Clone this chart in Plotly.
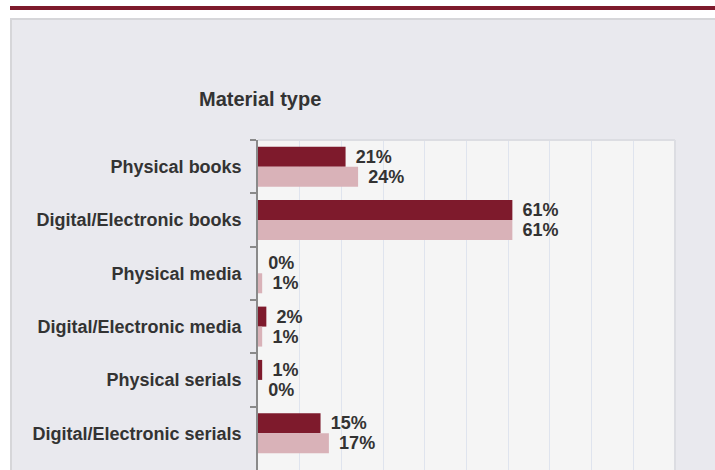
import plotly.graph_objects as go

categories = ["Physical books", "Digital/Electronic books", "Physical media",
              "Digital/Electronic media", "Physical serials",
              "Digital/Electronic serials", "Other"]
series_a = [21, 61, 0, 2, 1, 15, 0]
series_b = [24, 61, 1, 1, 0, 17, 0]

DARK = "#7e1a2c"
LIGHT = "#d9b2b8"
TXT = "#333333"
FONT = "Liberation Sans"

fig = go.Figure()
for vals, col in [(series_a, DARK), (series_b, LIGHT)]:
    fig.add_trace(go.Bar(
        y=categories, x=vals, orientation="h",
        marker=dict(color=col, line=dict(width=0)),
        text=[f"\u2009\u2009{v}%" for v in vals],
        textposition="outside", cliponaxis=False,
        textfont=dict(family=FONT, size=18, color=TXT, weight="bold"),
        hoverinfo="skip",
    ))

W, H = 715, 470
L, R, T, B = 258, 40, 140, 0
pw, ph = W - L - R, H - T - B

def px(x):
    return (x - L) / pw

def py(y):
    return (H - B - y) / ph

shapes = [
    dict(type="rect", xref="paper", yref="paper", x0=px(0), x1=px(W), y0=py(18), y1=py(0),
         fillcolor="white", line=dict(width=0), layer="below"),
    dict(type="rect", xref="paper", yref="paper", x0=px(0), x1=px(10), y0=py(H), y1=py(0),
         fillcolor="white", line=dict(width=0), layer="below"),
    dict(type="rect", xref="paper", yref="paper", x0=px(10), x1=px(W), y0=py(10), y1=py(6),
         fillcolor=DARK, line=dict(width=0), layer="below"),
    dict(type="rect", xref="paper", yref="paper", x0=px(10), x1=px(W), y0=py(20), y1=py(18),
         fillcolor="#d6d6d9", line=dict(width=0), layer="below"),
    dict(type="rect", xref="paper", yref="paper", x0=px(10), x1=px(12), y0=py(H), y1=py(18),
         fillcolor="#d6d6d9", line=dict(width=0), layer="below"),
    dict(type="line", xref="paper", yref="paper", x0=0, x1=1, y0=1, y1=1,
         line=dict(color="#dcdde2", width=2)),
    dict(type="line", xref="paper", yref="paper", x0=1, x1=1, y0=0, y1=1,
         line=dict(color="#dcdde2", width=2)),
]

fig.update_layout(
    width=W, height=H,
    margin=dict(l=L, r=R, t=T, b=B, pad=0),
    paper_bgcolor="#e9e9ee",
    plot_bgcolor="#f5f5f5",
    barmode="group", bargap=0.25, bargroupgap=0,
    showlegend=False,
    shapes=shapes,
    annotations=[dict(text="<b>Material type</b>", xref="paper", yref="paper",
                      x=px(197), y=py(99), xanchor="left", yanchor="middle",
                      showarrow=False,
                      font=dict(family=FONT, size=20, color=TXT))],
    xaxis=dict(range=[0, 100], dtick=10, showgrid=True, gridcolor="#dfe4ee",
               gridwidth=1, zeroline=False, showticklabels=False, showline=False,
               fixedrange=True),
    yaxis=dict(range=[5.69, -0.5], type="category", tickson="boundaries",
               ticks="outside", ticklen=6, tickcolor="#8a8a8a", tickwidth=1.5,
               showline=True, linecolor="#8a8a8a", linewidth=1.5,
               showgrid=False, ticklabelstandoff=11,
               tickfont=dict(family=FONT, size=18, color=TXT, weight="bold"),
               fixedrange=True),
)

fig.write_html("out.html", config={"displayModeBar": False},
               post_script="document.body.style.margin='0';document.body.style.overflow='hidden';")
